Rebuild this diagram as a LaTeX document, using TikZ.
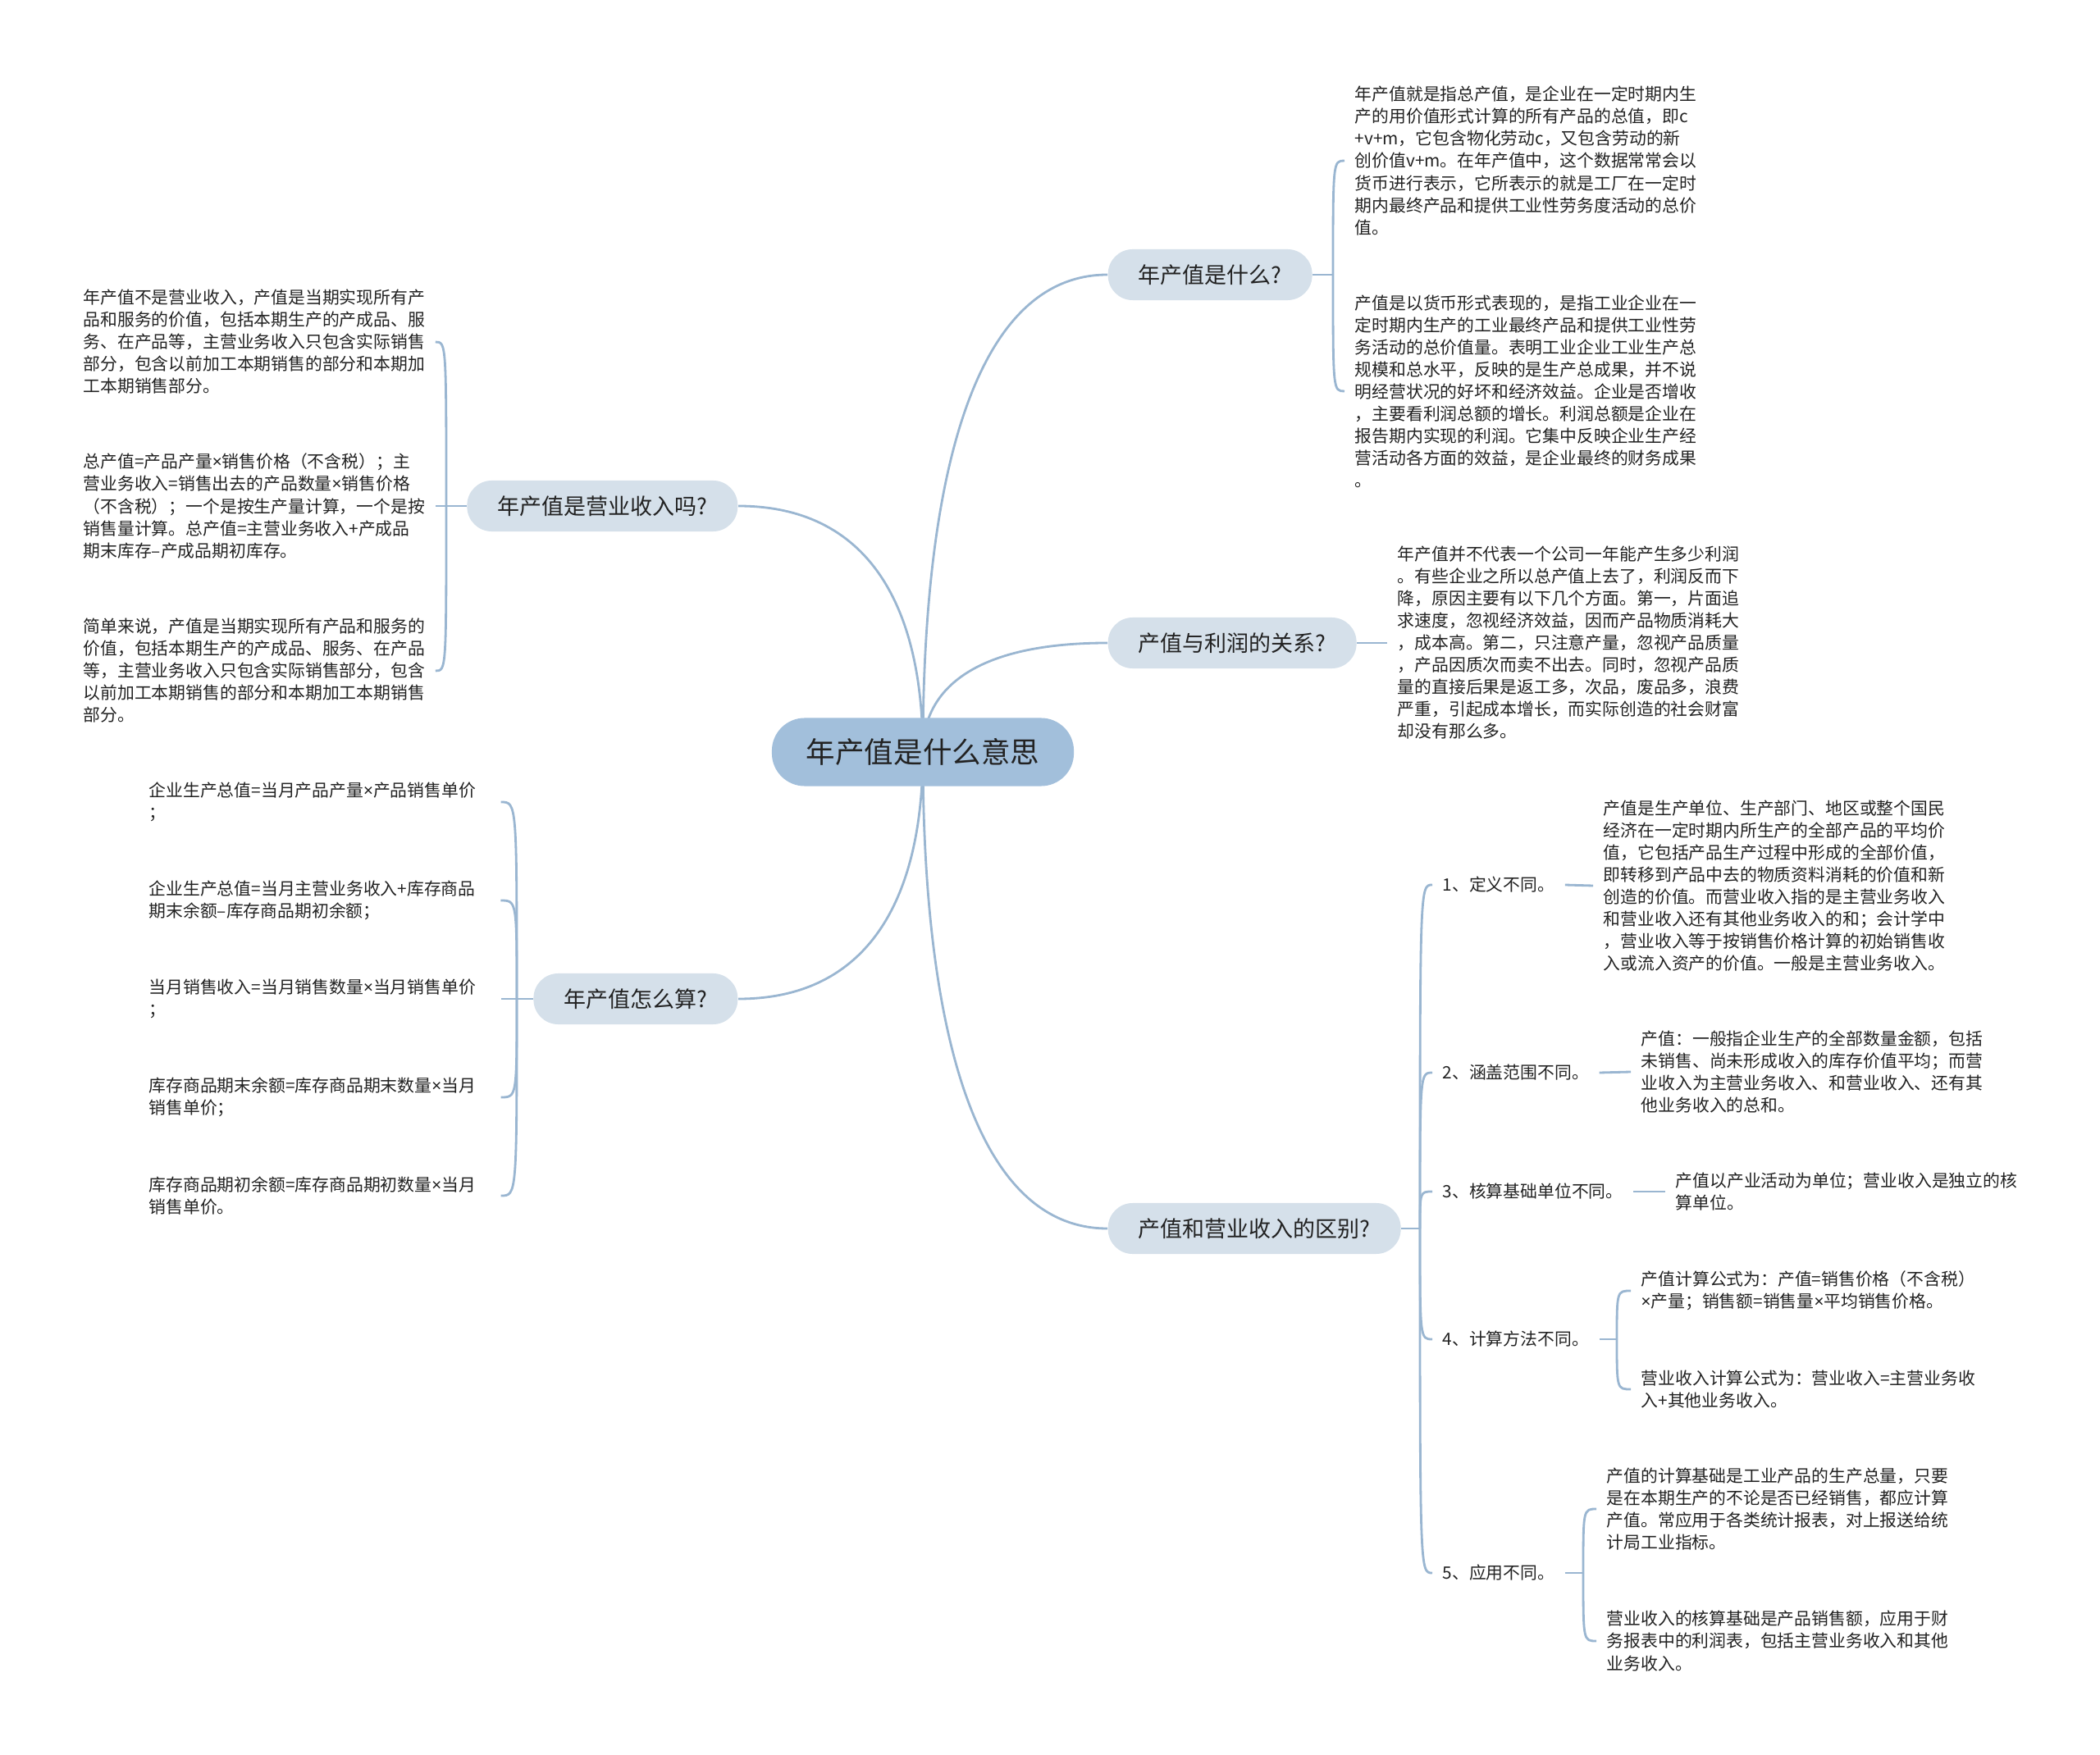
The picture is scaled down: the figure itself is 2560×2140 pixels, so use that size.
\documentclass[tikz,border=0pt]{standalone}
\usepackage{fontspec}
\setmainfont{Noto Sans CJK SC}
\newfontfamily\latinfont{Noto Sans}
\newcommand\mul{{\latinfont ×}}
\usetikzlibrary{calc,backgrounds}

\definecolor{rootfill}{HTML}{A2BFDB}
\definecolor{topicfill}{HTML}{D5E0EA}
\definecolor{linkcolor}{HTML}{9AB6D1}
\definecolor{inkcolor}{HTML}{222222}

\tikzset{
	rootnode/.style={fill=rootfill, rounded corners=0.4cm, minimum height=0.83cm, inner xsep=0.42cm, text=inkcolor, font=\fontsize{10.1pt}{12pt}\selectfont},
	topic/.style={fill=topicfill, rounded corners=0.3cm, minimum height=0.62cm, inner xsep=0.37cm, text=inkcolor, font=\fontsize{7.68pt}{9pt}\selectfont},
	leaf/.style={anchor=west, align=left, inner xsep=0.12cm, inner ysep=0pt, text=inkcolor, font=\fontsize{5.92pt}{7.68pt}\selectfont},
	calcleaf/.style={leaf, inner xsep=0.3cm},
	link/.style={draw=linkcolor, line width=0.8pt},
	limbto/.style={to path={.. controls ($(\tikztostart)!0.6!(\tikztostart |- \tikztotarget)$) and ($(\tikztotarget)!0.7!(\tikztostart |- \tikztotarget)$) .. (\tikztotarget)}},
	forkto/.style={to path={.. controls (\tikztostart |- \tikztotarget) .. (\tikztotarget)}}
}

\begin{document}
\begin{tikzpicture}[x=0.01cm, y=-0.01cm]
	\useasboundingbox (0,0) rectangle (2560,2140);
	
	% --- 中心主题 ---
	\node[rootnode] (root) at (1125,917) {年产值是什么意思};
	
	% --- 右上：年产值是什么? ---
	\node[topic, anchor=west] (what) at (1350,335) {年产值是什么?};
	\coordinate (whatj) at (1625,335);
	\node[leaf] (what1) at (1639,196) {年产值就是指总产值，是企业在一定时期内生\\
		产的用价值形式计算的所有产品的总值，即c\\
		+v+m，它包含物化劳动c，又包含劳动的新\\
		创价值v+m。在年产值中，这个数据常常会以\\
		货币进行表示，它所表示的就是工厂在一定时\\
		期内最终产品和提供工业性劳务度活动的总价\\
		值。};
	\node[leaf] (what2) at (1639,477) {产值是以货币形式表现的，是指工业企业在一\\
		定时期内生产的工业最终产品和提供工业性劳\\
		务活动的总价值量。表明工业企业工业生产总\\
		规模和总水平，反映的是生产总成果，并不说\\
		明经营状况的好坏和经济效益。企业是否增收\\
		，主要看利润总额的增长。利润总额是企业在\\
		报告期内实现的利润。它集中反映企业生产经\\
		营活动各方面的效益，是企业最终的财务成果\\
		。};
	
	% --- 右中：产值与利润的关系? ---
	\node[topic, anchor=west] (profit) at (1350,784) {产值与利润的关系?};
	\node[leaf] (profit1) at (1691,784) {年产值并不代表一个公司一年能产生多少利润\\
		。有些企业之所以总产值上去了，利润反而下\\
		降，原因主要有以下几个方面。第一，片面追\\
		求速度，忽视经济效益，因而产品物质消耗大\\
		，成本高。第二，只注意产量，忽视产品质量\\
		，产品因质次而卖不出去。同时，忽视产品质\\
		量的直接后果是返工多，次品，废品多，浪费\\
		严重，引起成本增长，而实际创造的社会财富\\
		却没有那么多。};
	
	% --- 右下：产值和营业收入的区别? ---
	\node[topic, anchor=west] (diff) at (1350,1498) {产值和营业收入的区别?};
	\coordinate (diffj) at (1731,1498);
	\node[leaf] (d1) at (1746,1079) {1、定义不同。};
	\node[leaf] (d2) at (1746,1308) {2、涵盖范围不同。};
	\node[leaf] (d3) at (1746,1453) {3、核算基础单位不同。};
	\node[leaf] (d4) at (1746,1633) {4、计算方法不同。};
	\node[leaf] (d5) at (1746,1918) {5、应用不同。};
	\node[leaf] (d1t) at (1942,1080) {产值是生产单位、生产部门、地区或整个国民\\
		经济在一定时期内所生产的全部产品的平均价\\
		值，它包括产品生产过程中形成的全部价值，\\
		即转移到产品中去的物质资料消耗的价值和新\\
		创造的价值。而营业收入指的是主营业务收入\\
		和营业收入还有其他业务收入的和；会计学中\\
		，营业收入等于按销售价格计算的初始销售收\\
		入或流入资产的价值。一般是主营业务收入。};
	\node[leaf] (d2t) at (1988,1307) {产值：一般指企业生产的全部数量金额，包括\\
		未销售、尚未形成收入的库存价值平均；而营\\
		业收入为主营业务收入、和营业收入、还有其\\
		他业务收入的总和。};
	\node[leaf] (d3t) at (2030,1453) {产值以产业活动为单位；营业收入是独立的核\\
		算单位。};
	\coordinate (d4j) at (1971,1633);
	\node[leaf] (d4a) at (1988,1574) {产值计算公式为：产值=销售价格（不含税）\\
		\mul 产量；销售额=销售量\mul 平均销售价格。};
	\node[leaf] (d4b) at (1988,1694) {营业收入计算公式为：营业收入=主营业务收\\
		入+其他业务收入。};
	\coordinate (d5j) at (1930,1918);
	\node[leaf] (d5a) at (1946,1840) {产值的计算基础是工业产品的生产总量，只要\\
		是在本期生产的不论是否已经销售，都应计算\\
		产值。常应用于各类统计报表，对上报送给统\\
		计局工业指标。};
	\node[leaf] (d5b) at (1946,2001) {营业收入的核算基础是产品销售额，应用于财\\
		务报表中的利润表，包括主营业务收入和其他\\
		业务收入。};
	
	% --- 左上：年产值是营业收入吗? ---
	\node[topic, anchor=east] (income) at (900,617) {年产值是营业收入吗?};
	\coordinate (incomej) at (544,617);
	\node[leaf] (income1) at (89,417) {年产值不是营业收入，产值是当期实现所有产\\
		品和服务的价值，包括本期生产的产成品、服\\
		务、在产品等，主营业务收入只包含实际销售\\
		部分，包含以前加工本期销售的部分和本期加\\
		工本期销售部分。};
	\node[leaf] (income2) at (89,617) {总产值=产品产量\mul 销售价格（不含税）；主\\
		营业务收入=销售出去的产品数量\mul 销售价格\\
		（不含税）；一个是按生产量计算，一个是按\\
		销售量计算。总产值=主营业务收入+产成品\\
		期末库存–产成品期初库存。};
	\node[leaf] (income3) at (89,818) {简单来说，产值是当期实现所有产品和服务的\\
		价值，包括本期生产的产成品、服务、在产品\\
		等，主营业务收入只包含实际销售部分，包含\\
		以前加工本期销售的部分和本期加工本期销售\\
		部分。};
	
	% --- 左下：年产值怎么算? ---
	\node[topic, anchor=east] (calc) at (900,1218) {年产值怎么算?};
	\coordinate (calcj) at (630,1218);
	\node[calcleaf] (calc1) at (151,978) {企业生产总值=当月产品产量\mul 产品销售单价\\ ；};
	\node[calcleaf] (calc2) at (151,1098) {企业生产总值=当月主营业务收入+库存商品\\ 期末余额–库存商品期初余额；};
	\node[calcleaf] (calc3) at (151,1218) {当月销售收入=当月销售数量\mul 当月销售单价\\ ；};
	\node[calcleaf] (calc4) at (151,1338) {库存商品期末余额=库存商品期末数量\mul 当月\\ 销售单价；};
	\node[calcleaf] (calc5) at (151,1458) {库存商品期初余额=库存商品期初数量\mul 当月\\ 销售单价。};
	
	% 连线放在底层
	\begin{scope}[on background layer]
		\draw[link] (root.center) to[limbto] (what.west);
		\draw[link] (root.center) to[limbto] (profit.west);
		\draw[link] (root.center) to[limbto] (diff.west);
		\draw[link] (root.center) to[limbto] (income.east);
		\draw[link] (root.center) to[limbto] (calc.east);
		
		\draw[link] (what.east) -- (whatj);
		\draw[link] (whatj) to[forkto] (what1.west);
		\draw[link] (whatj) to[forkto] (what2.west);
		
		\draw[link] (profit.east) -- (profit1.west);
		
		\draw[link] (diff.east) -- (diffj);
		\foreach \k in {1,...,5}
			\draw[link] (diffj) to[forkto] (d\k.west);
		\draw[link] (d1.east) -- (d1t.west);
		\draw[link] (d2.east) -- (d2t.west);
		\draw[link] (d3.east) -- (d3t.west);
		\draw[link] (d4.east) -- (d4j);
		\draw[link] (d4j) to[forkto] (d4a.west);
		\draw[link] (d4j) to[forkto] (d4b.west);
		\draw[link] (d5.east) -- (d5j);
		\draw[link] (d5j) to[forkto] (d5a.west);
		\draw[link] (d5j) to[forkto] (d5b.west);
		
		\draw[link] (income.west) -- (incomej);
		\foreach \k in {1,2,3}
			\draw[link] (incomej) to[forkto] (income\k.east);
		
		\draw[link] (calc.west) -- (calcj);
		\foreach \k in {1,...,5}
			\draw[link] (calcj) to[forkto] (calc\k.east);
	\end{scope}
\end{tikzpicture}
\end{document}
